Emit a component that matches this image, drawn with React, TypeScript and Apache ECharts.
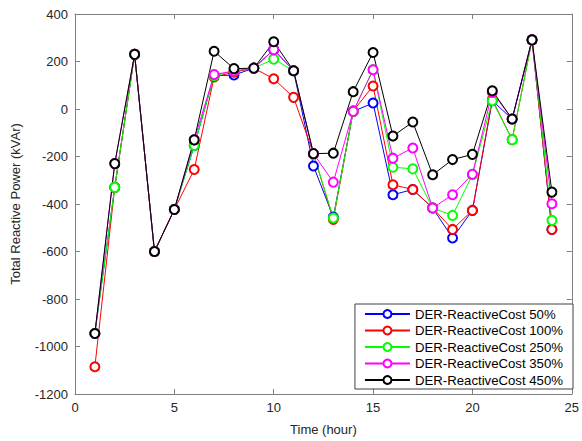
import React, { useEffect, useRef } from "react";
import * as echarts from "echarts";

const hours = [1, 2, 3, 4, 5, 6, 7, 8, 9, 10, 11, 12, 13, 14, 15, 16, 17, 18, 19, 20, 21, 22, 23, 24];
const seriesNames = [
  "DER-ReactiveCost 50%",
  "DER-ReactiveCost 100%",
  "DER-ReactiveCost 250%",
  "DER-ReactiveCost 350%",
  "DER-ReactiveCost 450%",
];
const seriesColors = ["#0000ff", "#ff0000", "#00ff00", "#ff00ff", "#000000"];
const cost50 = [-945, -330, 230, -600, -423, -154, 140, 143, 172, 250, 161, -240, -455, -10, 25, -361, -339, -417, -543, -427, 35, -42, 291, -507];
const cost100 = [-1085, -330, 230, -600, -423, -255, 135, 155, 172, 127, 49, -188, -465, -8, 97, -319, -339, -417, -507, -427, 40, -129, 291, -507];
const cost250 = [-945, -330, 230, -600, -423, -154, 140, 160, 172, 210, 161, -188, -459, -10, 165, -245, -252, -417, -448, -277, 35, -129, 291, -469];
const cost350 = [-945, -230, 230, -600, -423, -130, 145, 160, 172, 250, 161, -188, -308, -10, 165, -207, -164, -417, -361, -275, 70, -42, 291, -399];
const cost450 = [-945, -230, 230, -600, -423, -130, 243, 170, 172, 283, 161, -188, -186, 73, 238, -114, -55, -277, -213, -191, 77, -42, 291, -350];
const seriesValues = [cost50, cost100, cost250, cost350, cost450];

const FONT = "Liberation Sans";
const AXIS_COLOR = "#808080";
const LABEL_COLOR = "#262626";

export default function App() {
  const ref = useRef<HTMLDivElement>(null);
  useEffect(() => {
    if (!ref.current) return;
    const chart = echarts.init(ref.current, undefined, { renderer: "svg" });
    const axisCommon = {
      axisLine: { show: true, onZero: false, lineStyle: { color: AXIS_COLOR, width: 1 } },
      axisTick: { show: true, inside: true, length: 5, lineStyle: { color: AXIS_COLOR } },
      splitLine: { show: false },
    };
    chart.setOption({
      animation: false,
      backgroundColor: "#ffffff",
      textStyle: { fontFamily: FONT },
      grid: { left: 75, right: 7, top: 14, bottom: 46, containLabel: false },
      legend: {
        orient: "vertical",
        right: 9,
        bottom: 52,
        backgroundColor: "#ffffff",
        borderColor: "#404040",
        borderWidth: 1,
        borderRadius: 0,
        padding: [2, 10, 1, 9],
        itemGap: 0.5,
        itemWidth: 45,
        itemHeight: 10,
        textStyle: { fontFamily: FONT, fontSize: 13.2, color: "#000", lineHeight: 16 },
        data: seriesNames,
      },
      xAxis: [
        {
          type: "value",
          min: 0,
          max: 25,
          interval: 5,
          name: "Time (hour)",
          nameLocation: "middle",
          nameGap: 29,
          nameTextStyle: { fontFamily: FONT, fontSize: 13, color: LABEL_COLOR },
          axisLabel: { fontFamily: FONT, fontSize: 13, color: LABEL_COLOR, margin: 7 },
          ...axisCommon,
        },
        {
          type: "value",
          position: "top",
          min: 0,
          max: 25,
          interval: 5,
          axisLabel: { show: false },
          ...axisCommon,
        },
      ],
      yAxis: [
        {
          type: "value",
          min: -1200,
          max: 400,
          interval: 200,
          name: "Total Reactive Power (kVAr)",
          nameLocation: "middle",
          nameGap: 53,
          nameTextStyle: { fontFamily: FONT, fontSize: 13, color: LABEL_COLOR },
          axisLabel: {
            fontFamily: FONT,
            fontSize: 13,
            color: LABEL_COLOR,
            margin: 7,
            formatter: (v: number) => String(v),
          },
          ...axisCommon,
        },
        {
          type: "value",
          position: "right",
          min: -1200,
          max: 400,
          interval: 200,
          axisLabel: { show: false },
          ...axisCommon,
        },
      ],
      series: seriesNames.map((name, i) => ({
        name,
        type: "line",
        xAxisIndex: 0,
        yAxisIndex: 0,
        data: hours.map((h, j) => [h, seriesValues[i][j]]),
        symbol: "emptyCircle",
        symbolSize: 9,
        showAllSymbol: true,
        color: seriesColors[i],
        lineStyle: { color: seriesColors[i], width: 1 },
        itemStyle: { color: seriesColors[i], borderColor: seriesColors[i], borderWidth: 1 },
        emphasis: { disabled: true },
      })),
    });
    return () => chart.dispose();
  }, []);
  return (
    <div
      ref={ref}
      style={{ position: "fixed", left: 0, top: 0, width: 582, height: 441 }}
    />
  );
}
